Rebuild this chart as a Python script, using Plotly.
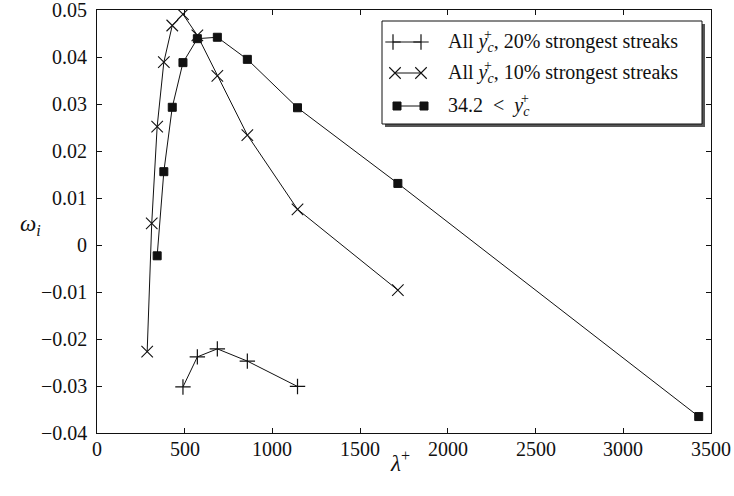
import plotly.graph_objects as go

# Wavelength λ+ and growth rate ω_i for each streak selection
lam_20 = [490, 572, 686, 857, 1143]
omega_20 = [-0.0302, -0.0238, -0.0221, -0.0247, -0.0301]

lam_10 = [286, 312, 343, 381, 429, 490, 572, 686, 857, 1143, 1715]
omega_10 = [-0.0227, 0.0046, 0.0252, 0.0389, 0.0467, 0.0491, 0.0446, 0.0360, 0.0234, 0.0076, -0.0096]

lam_hi = [343, 381, 429, 490, 572, 686, 857, 1143, 1715, 3430]
omega_hi = [-0.0023, 0.0156, 0.0293, 0.0388, 0.0439, 0.0442, 0.0395, 0.0292, 0.0131, -0.0365]

x_ticks = [0, 500, 1000, 1500, 2000, 2500, 3000, 3500]
y_ticks = [-0.04, -0.03, -0.02, -0.01, 0, 0.01, 0.02, 0.03, 0.04, 0.05]
y_ticktext = ["\u22120.04", "\u22120.03", "\u22120.02", "\u22120.01", "0",
              "0.01", "0.02", "0.03", "0.04", "0.05"]

W, H = 734, 496
L, R, T, B = 97, 23, 10, 63
FONT = "Liberation Serif"
INK = "#111111"


def px(x):
    return (x - L) / (W - L - R)


def py(y):
    return (H - B - y) / (H - T - B)


series = [
    dict(x=lam_20, y=omega_20, sym="cross-thin", size=11, lw=1.2),
    dict(x=lam_10, y=omega_10, sym="x-thin", size=11.5, lw=1.1),
    dict(x=lam_hi, y=omega_hi, sym="square", size=8, lw=1),
]

fig = go.Figure()
for s in series:
    fig.add_trace(go.Scatter(
        x=s["x"], y=s["y"], mode="lines+markers",
        line=dict(color=INK, width=1),
        marker=dict(symbol=s["sym"], size=s["size"], color=INK,
                    line=dict(color=INK, width=s["lw"])),
        showlegend=False, cliponaxis=True,
    ))

# Legend drawn on a pixel-scaled overlay axis
Y_C = "<i>y</i><sub><i>c</i></sub>"
legend_rows = [
    (42, 393, 421, "All " + Y_C + ", 20% strongest streaks", 488),
    (73, 395, 421, "All " + Y_C + ", 10% strongest streaks", 488),
    (106, 397, 424, "34.2&nbsp;&nbsp;&lt;&nbsp;&nbsp;" + Y_C, 525),
]
for (yy, xa, xb, _, _), s in zip(legend_rows, series):
    fig.add_trace(go.Scatter(
        x=[xa, xb], y=[yy, yy], mode="lines+markers", xaxis="x2", yaxis="y2",
        line=dict(color=INK, width=1),
        marker=dict(symbol=s["sym"], size=s["size"], color=INK,
                    line=dict(color=INK, width=s["lw"])),
        showlegend=False, hoverinfo="skip",
    ))

shapes = [
    dict(type="rect", xref="x2", yref="y2", x0=385, y0=24, x1=705, y1=127,
         fillcolor="#555555", line=dict(width=0), layer="below"),
    dict(type="rect", xref="x2", yref="y2", x0=382, y0=21, x1=702, y1=124,
         fillcolor="white", line=dict(color=INK, width=1), layer="below"),
]

annotations = []
for yy, _, _, txt, sup_x in legend_rows:
    annotations.append(dict(
        x=446, y=yy, xref="x2", yref="y2", text=txt, showarrow=False,
        xanchor="left", yanchor="middle", font=dict(family=FONT, size=20, color=INK),
    ))
    annotations.append(dict(
        x=sup_x, y=yy - 8, xref="x2", yref="y2", text="+", showarrow=False,
        xanchor="center", yanchor="middle", font=dict(family=FONT, size=14, color=INK),
    ))

# Tick labels in the serif face
tick_font = dict(family=FONT, size=20, color=INK)
for v in x_ticks:
    annotations.append(dict(
        x=v, y=py(449), xref="x", yref="paper", text=str(v), showarrow=False,
        xanchor="center", yanchor="middle", font=tick_font,
    ))
for v, t in zip(y_ticks, y_ticktext):
    annotations.append(dict(
        x=px(89), y=v, xref="paper", yref="y", text=t, showarrow=False,
        xanchor="right", yanchor="middle", font=tick_font,
    ))

annotations += [
    dict(x=px(18), y=py(225), xref="paper", yref="paper", showarrow=False,
         text="<i>ω<sub>i</sub></i>", font=dict(family=FONT, size=23, color=INK)),
    dict(x=px(400), y=py(478), xref="paper", yref="paper", showarrow=False,
         text="<i>λ</i><sup>+</sup>", font=dict(family=FONT, size=23, color=INK)),
]

axis_common = dict(
    showline=True, linecolor=INK, linewidth=1, mirror="ticks",
    ticks="inside", ticklen=5, tickcolor=INK, tickwidth=1,
    showgrid=False, zeroline=False, showticklabels=False,
)

fig.update_layout(
    width=W, height=H,
    margin=dict(l=L, r=R, t=T, b=B, pad=0),
    font=dict(family=FONT, size=20, color=INK),
    paper_bgcolor="white", plot_bgcolor="white",
    xaxis=dict(range=[0, 3500], tickmode="array", tickvals=x_ticks, **axis_common),
    yaxis=dict(range=[-0.04, 0.05], tickmode="array", tickvals=y_ticks, **axis_common),
    xaxis2=dict(range=[L, W - R], overlaying="x", visible=False, fixedrange=True),
    yaxis2=dict(range=[H - B, T], overlaying="y", visible=False, fixedrange=True),
    shapes=shapes,
    annotations=annotations,
    showlegend=False,
)

fig.write_html("out.html")
